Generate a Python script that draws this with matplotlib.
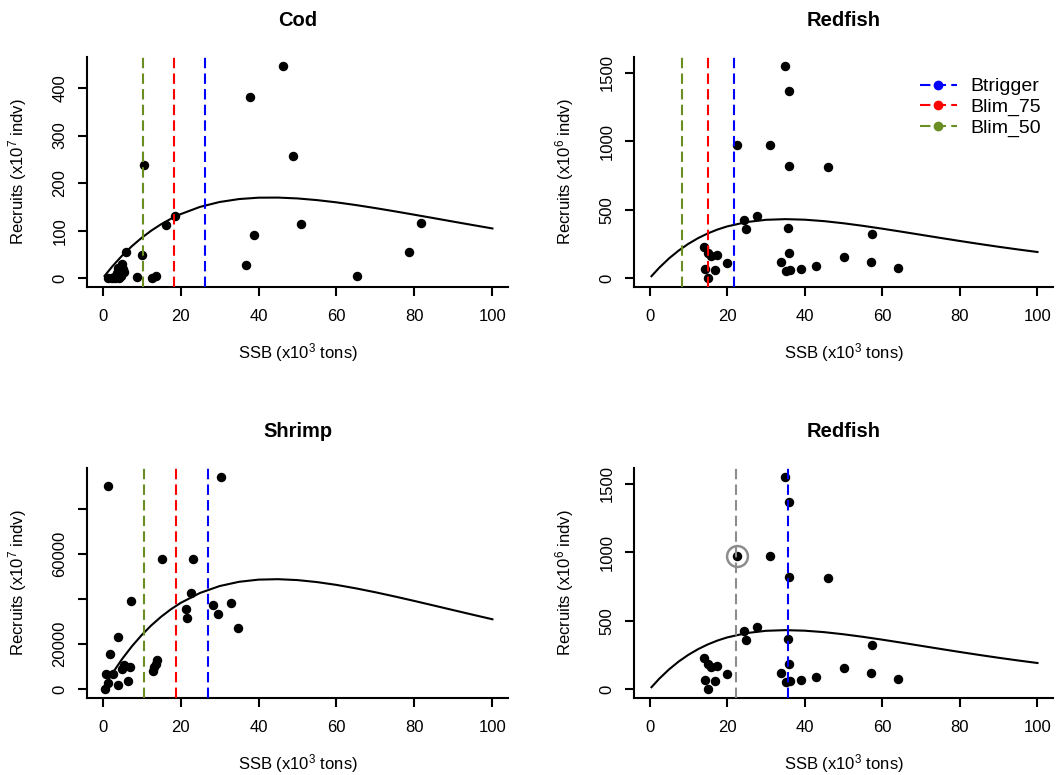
import matplotlib
matplotlib.use("Agg")
import matplotlib.pyplot as plt
from matplotlib.lines import Line2D

plt.rcParams['font.family'] = ['Liberation Sans', 'DejaVu Sans']
plt.rcParams['mathtext.default'] = 'regular'

# SSB grid for the fitted stock-recruitment curves (x10^3 tons)
ssb_grid = [0.5, 2.5, 5, 7.5, 10, 12.5, 15, 17.5, 20, 25, 30, 35, 40, 45, 50,
            55, 60, 65, 70, 75, 80, 85, 90, 95, 100]

# ---- Cod ----
cod_ssb = [46.3, 37.8, 48.9, 10.6, 18.6, 16.2, 50.9, 81.8, 38.9, 78.5, 5.9, 10.0,
           36.8, 65.3, 8.9, 12.6, 13.7, 1.5, 2.3, 3.0, 3.2, 3.6, 4.0, 4.3, 4.8,
           5.1, 5.3, 5.6]
cod_rec = [447, 380, 257, 239, 131, 112, 114, 116, 91, 56, 56, 49,
           28, 5, 3, 0, 5, 0, 1, 3, 0, 12, 22, 0, 6,
           30, 20, 14]
cod_fit = [5.3, 25.4, 47.9, 67.7, 85.2, 100.5, 113.8, 125.2, 135.0, 150.3, 160.5,
           166.7, 169.6, 169.8, 168.0, 164.5, 159.8, 154.1, 147.7, 140.9, 133.8,
           126.6, 119.3, 112.1, 105.0]
cod_btrigger, cod_blim75, cod_blim50 = 26.2, 18.3, 10.3

# ---- Redfish ----
red_ssb = [34.9, 36.0, 22.5, 31.0, 36.0, 46.0, 27.7, 24.4, 24.9, 35.6, 57.3, 14.0,
           15.2, 15.9, 17.4, 19.9, 14.2, 15.0, 16.8, 36.0, 34.0, 50.2, 57.1, 42.9,
           39.1, 35.3, 36.1, 64.0]
red_rec = [1554, 1368, 975, 975, 821, 816, 459, 428, 364, 371, 322, 228,
           188, 166, 172, 115, 68, 0, 61, 188, 122, 156, 122, 90,
           66, 54, 61, 73]
red_fit = [16.6, 78.3, 145.8, 203.6, 252.7, 294.1, 328.6, 357.0, 379.8, 411.6,
           428.1, 433.0, 429.0, 418.4, 402.9, 384.2, 363.4, 341.3, 318.6, 295.9,
           273.6, 252.0, 231.3, 211.7, 193.2]
red_btrigger, red_blim75, red_blim50 = 21.7, 15.0, 8.4
red_alt_ref, red_alt_btrigger = 22.3, 35.6
red_flag_ssb, red_flag_rec = 22.5, 975

# ---- Shrimp ----
shr_ssb = [1.5, 30.3, 15.3, 23.1, 22.8, 7.3, 28.3, 33.0, 21.4, 21.7, 29.5, 34.7,
           3.9, 2.0, 14.0, 13.6, 13.2, 13.0, 5.5, 5.1, 7.0, 0.9, 2.6, 1.5, 3.9,
           6.5, 0.6]
shr_rec = [89900, 94200, 57800, 57800, 42500, 39300, 37300, 38400, 35400, 31400,
           33500, 27000, 23100, 15900, 13200, 11400, 9900, 8000, 10700, 9200,
           9900, 7000, 6700, 3000, 1800, 3700, 0]
shr_fit = [1490, 7121, 13456, 19068, 24020, 28367, 32160, 35447, 38272, 42703,
           45737, 47629, 48589, 48788, 48385, 47507, 46258, 44730, 42997, 41119,
           39148, 37127, 35087, 33058, 31060]
shr_btrigger, shr_blim75, shr_blim50 = 27.1, 18.8, 10.6

x_ticks = [0, 20, 40, 60, 80, 100]

BLUE, RED, GREEN, GREY = '#0000FF', '#FF0000', '#6B8E23', '#8C8C8C'
DASH = (0, (5, 2.5))

W, H = 1063, 775
fig = plt.figure(figsize=(W / 100, H / 100), dpi=100)


def frame(left, top, right, bottom):
    return [left / W, 1 - bottom / H, (right - left) / W, (bottom - top) / H]


def panel(rect, title, ssb, rec, fit, refs, exp, yticks, yticklabels):
    ax = fig.add_axes(rect)
    lo, hi = min(rec), max(rec)
    pad = 0.04 * (hi - lo)
    ax.set_xlim(-4, 104)
    ax.set_ylim(lo - pad, hi + pad)
    ax.plot(ssb_grid, fit, color='black', lw=1.5, zorder=2)
    ax.plot(ssb, rec, 'o', color='black', ms=5.8, mec='black', zorder=3)
    for x, c in refs:
        ax.axvline(x, color=c, ls=DASH, lw=1.5, zorder=4)
    for s in ('top', 'right'):
        ax.spines[s].set_visible(False)
    for s in ('left', 'bottom'):
        ax.spines[s].set_linewidth(1.5)
    ax.set_xticks(x_ticks)
    ax.set_yticks(yticks)
    ax.set_yticklabels(yticklabels)
    ax.tick_params(length=6.5, width=1.5, labelsize=12, colors='black')
    ax.tick_params(axis='x', pad=9.5)
    ax.tick_params(axis='y', pad=7.5)
    for lab in ax.get_yticklabels():
        lab.set_rotation(90)
        lab.set_va('center')
    ax.set_title(title, fontsize=14.5, fontweight='bold', pad=22)
    ax.set_xlabel('SSB (x10$^{3}$ tons)', fontsize=12)
    ax.set_ylabel('Recruits (x10$^{%s}$ indv)' % exp, fontsize=12)
    ax.xaxis.set_label_coords(0.5, -0.235)
    ax.yaxis.set_label_coords(-0.138, 0.5)
    return ax


ax1 = panel(frame(87, 57, 508, 287), 'Cod', cod_ssb, cod_rec, cod_fit,
            [(cod_blim50, GREEN), (cod_blim75, RED), (cod_btrigger, BLUE)],
            '7', [0, 100, 200, 300, 400], ['0', '100', '200', '300', '400'])

ax2 = panel(frame(634, 57, 1053, 287), 'Redfish', red_ssb, red_rec, red_fit,
            [(red_blim50, GREEN), (red_blim75, RED), (red_btrigger, BLUE)],
            '6', [0, 500, 1000, 1500], ['0', '500', '1000', '1500'])

ax3 = panel(frame(87, 468, 508, 698), 'Shrimp', shr_ssb, shr_rec, shr_fit,
            [(shr_blim50, GREEN), (shr_blim75, RED), (shr_btrigger, BLUE)],
            '7', [0, 20000, 40000, 60000, 80000], ['0', '20000', '', '60000', ''])

ax4 = panel(frame(634, 468, 1053, 698), 'Redfish', red_ssb, red_rec, red_fit,
            [(red_alt_ref, GREY), (red_alt_btrigger, BLUE)],
            '6', [0, 500, 1000, 1500], ['0', '500', '1000', '1500'])
ax4.plot([red_flag_ssb], [red_flag_rec], 'o', mfc='none', mec=GREY, mew=1.8,
         ms=15, zorder=5)

handles = [Line2D([0], [0], color=c, ls=DASH, lw=1.5, marker='o', ms=6)
           for c in (BLUE, RED, GREEN)]
fig.legend(handles, ['Btrigger', 'Blim_75', 'Blim_50'], loc='upper left',
           bbox_to_anchor=(910 / W, 1 - 68 / H), frameon=False, fontsize=14,
           handlelength=1.9, handletextpad=0.7, labelspacing=0.15,
           borderpad=0, numpoints=1)

fig.savefig('out.png', dpi=100)
